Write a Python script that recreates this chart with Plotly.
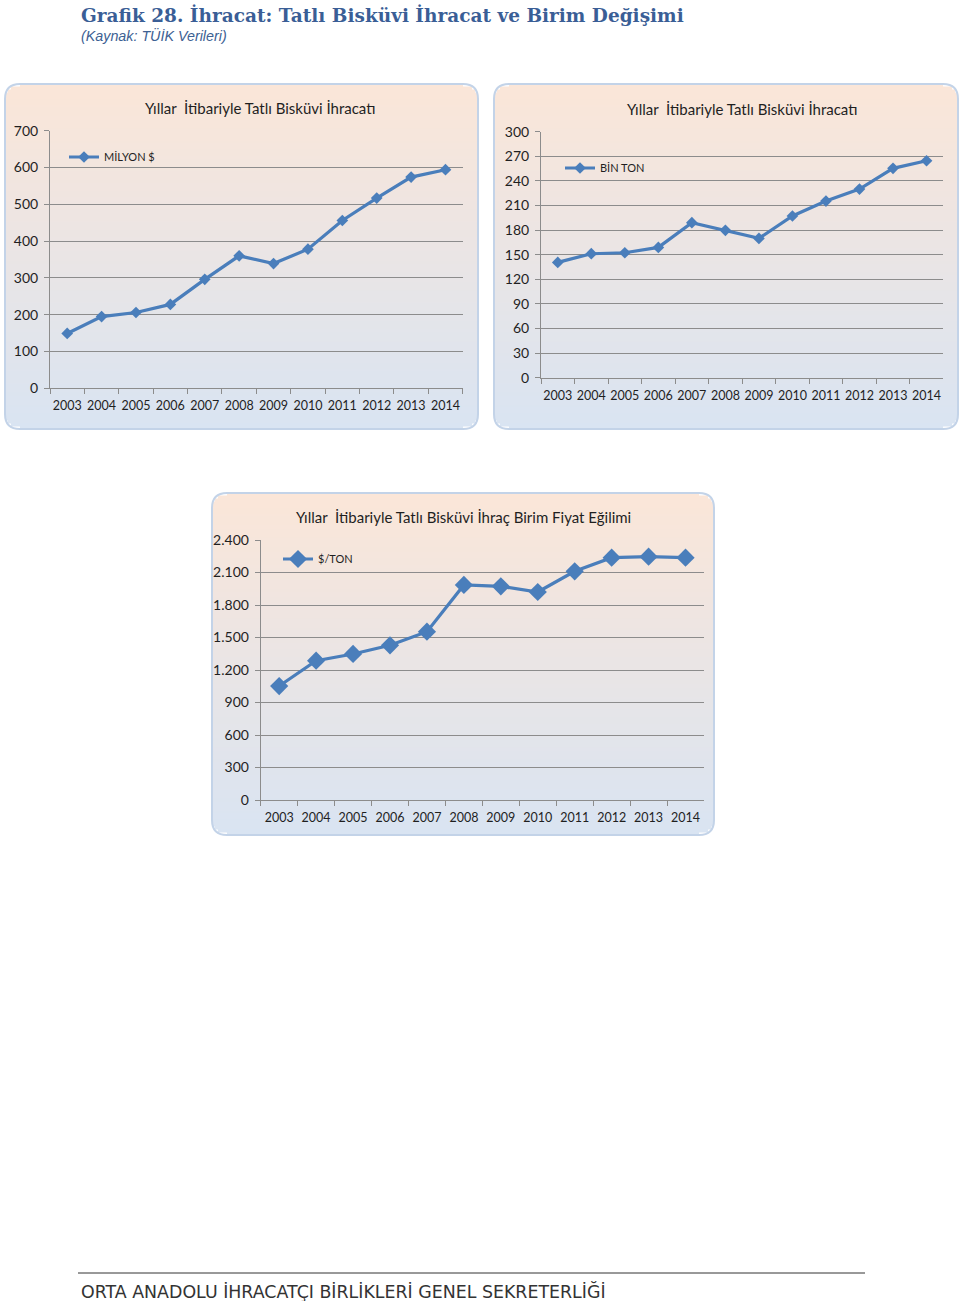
import plotly.graph_objects as go

W, H = 960, 1301

years = ["2003", "2004", "2005", "2006", "2007", "2008", "2009", "2010", "2011", "2012", "2013", "2014"]
milyon_usd = [149, 195, 206, 228, 296, 360, 339, 378, 456, 517, 574, 594]
bin_ton = [140.6, 151.2, 152.4, 158.9, 189.0, 179.7, 169.9, 197.2, 215.4, 230.0, 255.3, 264.6]
usd_per_ton = [1052, 1286, 1348, 1428, 1554, 1985, 1972, 1920, 2111, 2237, 2246, 2237]

main_title = "Grafik 28. İhracat: Tatlı Bisküvi İhracat ve Birim Değişimi"
sub_title = "(Kaynak: TÜİK Verileri)"
chart_titles = ["Yıllar  İtibariyle Tatlı Bisküvi İhracatı",
                "Yıllar  İtibariyle Tatlı Bisküvi İhracatı",
                "Yıllar  İtibariyle Tatlı Bisküvi İhraç Birim Fiyat Eğilimi"]
series_names = ["MİLYON $", "BİN TON", "$/TON"]
footer_text = "ORTA ANADOLU İHRACATÇI BİRLİKLERİ GENEL SEKRETERLİĞİ"

LINE = "#4A7EBB"
GRID = "#8C8C8C"
TXT = "#1F1F1F"
FONT = "Lato"


def px(x):
    return x / W


def py(y):
    return 1 - y / H


fig = go.Figure()
shapes = []
annotations = []


def hexmix(c1, c2, t):
    a = [int(c1[i:i + 2], 16) for i in (1, 3, 5)]
    b = [int(c2[i:i + 2], 16) for i in (1, 3, 5)]
    return "#%02x%02x%02x" % tuple(round(a[k] + (b[k] - a[k]) * t) for k in range(3))


def panel(x0, y0, x1, y1, r=15):
    top, bot = "#FBE6D8", "#D9E4F2"
    step = 3
    y = y0
    while y < y1:
        ya, yb = y, min(y + step, y1)
        ym = (ya + yb) / 2
        d = None
        if ym < y0 + r:
            d = y0 + r - ya
        elif ym > y1 - r:
            d = yb - (y1 - r)
        inset = 0
        if d is not None:
            d = min(d, r)
            inset = r - (r * r - d * d) ** 0.5
        t = (ym - y0) / (y1 - y0)
        col = hexmix(top, bot, t)
        shapes.append(dict(type="rect", xref="paper", yref="paper",
                           x0=px(x0 + inset + 0.5), x1=px(x1 - inset - 0.5),
                           y0=py(yb), y1=py(ya),
                           fillcolor=col, line=dict(color=col, width=1.2), layer="below"))
        y += step
    path = (f"M {px(x0 + r)},{py(y0)} L {px(x1 - r)},{py(y0)} "
            f"Q {px(x1)},{py(y0)} {px(x1)},{py(y0 + r)} "
            f"L {px(x1)},{py(y1 - r)} Q {px(x1)},{py(y1)} {px(x1 - r)},{py(y1)} "
            f"L {px(x0 + r)},{py(y1)} Q {px(x0)},{py(y1)} {px(x0)},{py(y1 - r)} "
            f"L {px(x0)},{py(y0 + r)} Q {px(x0)},{py(y0)} {px(x0 + r)},{py(y0)} Z")
    shapes.append(dict(type="path", xref="paper", yref="paper", path=path,
                       line=dict(color="#C3D3E8", width=2), layer="below"))


charts = [
    dict(panel=(5, 84, 478, 429), plot=(50, 130.7, 462.7, 388.3), vals=milyon_usd,
         yrange=[0, 700], dtick=100, fmt="", msize=9, title_xy=(260, 108),
         leg=(64, 157)),
    dict(panel=(494, 84, 958, 429), plot=(541, 131.7, 943.3, 377.7), vals=bin_ton,
         yrange=[0, 300], dtick=30, fmt="", msize=9, title_xy=(742, 109),
         leg=(560, 168)),
    dict(panel=(212, 493, 714, 835), plot=(260.7, 540, 704, 800), vals=usd_per_ton,
         yrange=[0, 2400], dtick=300, fmt=",", msize=14, title_xy=(463, 517),
         leg=(278, 559)),
]

layout_axes = {}
for i, c in enumerate(charts):
    n = "" if i == 0 else str(i + 1)
    panel(*c["panel"])
    x0, y0, x1, y1 = c["plot"]
    fig.add_trace(go.Scatter(
        x=years, y=c["vals"], name=series_names[i], mode="lines+markers",
        line=dict(color=LINE, width=3.2),
        marker=dict(symbol="diamond", size=c["msize"], color=LINE),
        xaxis="x" + n, yaxis="y" + n, legend="legend" + n, showlegend=True,
        hoverinfo="x+y"))
    layout_axes["xaxis" + n] = dict(
        domain=[px(x0), px(x1)], anchor="y" + n, type="category",
        range=[-0.5, 11.5], showgrid=False, showline=True, linecolor=GRID, linewidth=1,
        ticks="outside", tickson="boundaries", ticklen=5, tickcolor=GRID, tickangle=0,
        automargin=False, ticklabelstandoff=6,
        tickfont=dict(family=FONT, size=12.5, color=TXT), zeroline=False, fixedrange=True)
    layout_axes["yaxis" + n] = dict(
        domain=[py(y1), py(y0)], anchor="x" + n, range=c["yrange"], dtick=c["dtick"],
        tickformat=c["fmt"], showgrid=True, gridcolor=GRID, gridwidth=1,
        showline=True, linecolor=GRID, linewidth=1, ticks="outside", ticklen=5,
        ticklabelstandoff=3,
        tickcolor=GRID, tickfont=dict(family=FONT, size=14, color=TXT), automargin=False,
        zeroline=False, fixedrange=True)
    layout_axes["legend" + n] = dict(
        x=px(c["leg"][0]), y=py(c["leg"][1]), xanchor="left", yanchor="middle",
        xref="paper", yref="paper", bgcolor="rgba(0,0,0,0)", itemsizing="trace",
        font=dict(family=FONT, size=11, color=TXT), tracegroupgap=0)
    annotations.append(dict(
        text=chart_titles[i], x=px(c["title_xy"][0]), y=py(c["title_xy"][1]),
        xref="paper", yref="paper", xanchor="center", yanchor="middle", showarrow=False,
        font=dict(family=FONT, size=15, color=TXT)))

annotations.append(dict(
    text="<b>" + main_title + "</b>", x=px(79), y=py(15), xref="paper", yref="paper",
    xanchor="left", yanchor="middle", showarrow=False,
    font=dict(family="DejaVu Serif", size=18.5, color="#3A5E96")))
annotations.append(dict(
    text="<i>" + sub_title + "</i>", x=px(79), y=py(35), xref="paper", yref="paper",
    xanchor="left", yanchor="middle", showarrow=False,
    font=dict(family="Liberation Sans", size=14.3, color="#3D6193")))
annotations.append(dict(
    text=footer_text, x=px(79), y=py(1291), xref="paper", yref="paper",
    xanchor="left", yanchor="middle", showarrow=False,
    font=dict(family="DejaVu Sans", size=17.4, color="#333333")))
shapes.append(dict(type="line", xref="paper", yref="paper", x0=px(78), x1=px(865),
                   y0=py(1273), y1=py(1273), line=dict(color="#333333", width=1)))

fig.update_layout(
    width=W, height=H, margin=dict(l=0, r=0, t=0, b=0, autoexpand=False),
    paper_bgcolor="white", plot_bgcolor="rgba(0,0,0,0)",
    separators=",.", shapes=shapes, annotations=annotations,
    hovermode="closest", **layout_axes)

fig.write_html("out.html", config={"displayModeBar": False},
               post_script="document.body.style.margin='0';document.body.style.overflow='hidden';")
